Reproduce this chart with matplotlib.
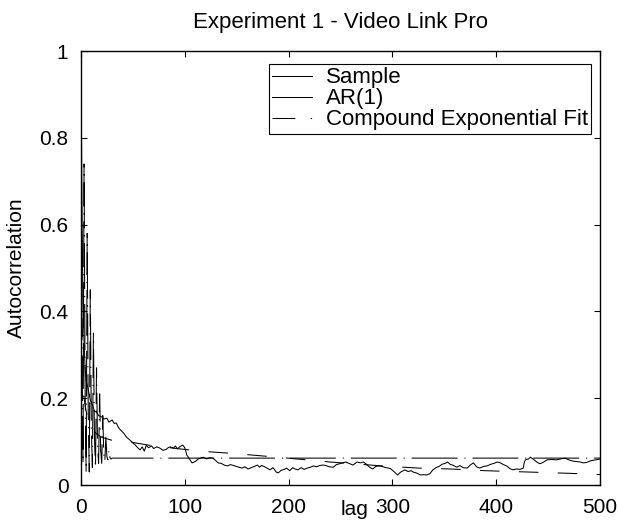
import numpy as np
import matplotlib
matplotlib.use("Agg")
import matplotlib.pyplot as plt
from matplotlib.lines import Line2D

plt.rcParams['font.family'] = ['Liberation Sans', 'DejaVu Sans']
plt.rcParams['lines.scale_dashes'] = False

# sample autocorrelation (noisy, slow decay)
sample_lag = [0, 1, 2, 3, 4, 5, 6, 7, 9, 11, 13, 15, 17, 20, 22, 25, 27, 30, 32, 34,
              36, 38, 41, 44, 47, 50, 52, 55, 57, 59, 61, 63, 65, 68, 70, 73, 76, 79, 82, 84,
              86, 89, 91, 93, 95, 98, 100, 102, 105, 107, 110, 113, 115, 118, 121, 124, 127, 130, 132, 135,
              138, 141, 144, 148, 151, 155, 158, 161, 164, 167, 170, 172, 174, 177, 180, 182, 185, 188, 190, 193,
              196, 198, 201, 204, 206, 209, 212, 215, 218, 221, 224, 227, 230, 233, 236, 239, 243, 246, 249, 252,
              255, 258, 262, 266, 269, 272, 275, 278, 281, 284, 288, 291, 294, 298, 301, 305, 308, 312, 315, 318,
              320, 324, 327, 330, 333, 336, 339, 342, 345, 348, 351, 353, 356, 358, 362, 365, 368, 372, 375, 378,
              381, 384, 388, 391, 395, 398, 401, 404, 407, 410, 413, 416, 420, 423, 426, 427, 428, 431, 433, 436,
              439, 442, 445, 447, 449, 453, 458, 462, 466, 468, 471, 474, 478, 481, 484, 487, 490, 493, 496, 500]
sample_acf = [1.0, 0.62, 0.42, 0.33, 0.27, 0.24, 0.23, 0.22, 0.196, 0.185, 0.17, 0.168, 0.16, 0.157, 0.152, 0.154, 0.145, 0.15, 0.142, 0.143,
              0.133, 0.127, 0.12, 0.11, 0.104, 0.097, 0.093, 0.085, 0.081, 0.088, 0.078, 0.092, 0.086, 0.09, 0.084, 0.088, 0.085, 0.08, 0.082, 0.086,
              0.088, 0.085, 0.09, 0.083, 0.088, 0.092, 0.086, 0.069, 0.058, 0.051, 0.054, 0.06, 0.062, 0.064, 0.06, 0.063, 0.062, 0.056, 0.051, 0.05,
              0.046, 0.044, 0.047, 0.044, 0.042, 0.039, 0.042, 0.037, 0.04, 0.043, 0.046, 0.041, 0.045, 0.042, 0.038, 0.035, 0.04, 0.03, 0.028, 0.034,
              0.036, 0.039, 0.033, 0.04, 0.037, 0.035, 0.04, 0.036, 0.039, 0.041, 0.044, 0.042, 0.045, 0.046, 0.045, 0.042, 0.041, 0.047, 0.049, 0.051,
              0.053, 0.05, 0.046, 0.053, 0.051, 0.053, 0.048, 0.041, 0.037, 0.043, 0.044, 0.042, 0.04, 0.038, 0.032, 0.023, 0.03, 0.035, 0.031, 0.033,
              0.03, 0.027, 0.023, 0.024, 0.023, 0.026, 0.035, 0.04, 0.043, 0.048, 0.05, 0.053, 0.047, 0.046, 0.041, 0.045, 0.04, 0.039, 0.046, 0.051,
              0.042, 0.039, 0.043, 0.044, 0.048, 0.05, 0.053, 0.051, 0.047, 0.044, 0.038, 0.035, 0.037, 0.036, 0.039, 0.052, 0.058, 0.06, 0.064, 0.059,
              0.053, 0.049, 0.052, 0.055, 0.058, 0.059, 0.058, 0.06, 0.062, 0.06, 0.057, 0.055, 0.054, 0.053, 0.051, 0.052, 0.055, 0.057, 0.058, 0.06]

# AR(1) model
ar_lag = [0, 1, 2, 3, 5, 7, 10, 15, 20, 30, 45, 70, 115, 145, 190, 240, 290, 325, 355, 390, 430, 470, 500]
ar_acf = [1.0, 0.4, 0.25, 0.2, 0.17, 0.15, 0.13, 0.118, 0.11, 0.103, 0.1, 0.09, 0.078, 0.073, 0.064, 0.053, 0.044, 0.039, 0.037, 0.033, 0.03, 0.027, 0.024]

# compound exponential fit (periodic decay, settles to a constant)
fit_lag = list(range(0, 31)) + [500]
fit_acf = [1.0, 0.30, 0.05, 0.74, 0.22, 0.03, 0.58, 0.17, 0.03, 0.45, 0.13, 0.04, 0.35, 0.11, 0.04, 0.27,
           0.09, 0.05, 0.21, 0.08, 0.05, 0.16, 0.07, 0.055, 0.11, 0.065, 0.058, 0.08, 0.062, 0.06, 0.062, 0.062]

series_labels = ['Sample', 'AR(1)', 'Compound Exponential Fit']
xticks = [0, 100, 200, 300, 400, 500]
yticks = [0, 0.2, 0.4, 0.6, 0.8, 1]
ytick_labels = ['0', '0.2', '0.4', '0.6', '0.8', '1']

fs = 15
lw = 0.75
fit_dash = (0, (33, 5, 0.8, 5))
ar_dash = (4, (14, 14))

fig = plt.figure(figsize=(6.18, 5.24), dpi=100)
ax = fig.add_axes([0.131, 0.0744, 0.840, 0.828])

ax.plot(sample_lag, sample_acf, color='black', lw=lw)
ax.plot(ar_lag, ar_acf, color='black', lw=lw, linestyle=ar_dash)
ax.plot(fit_lag, fit_acf, color='black', lw=lw, linestyle=fit_dash)

ax.set_xlim(0, 500)
ax.set_ylim(0, 1)
ax.set_xticks(xticks)
ax.set_xticklabels([str(t) for t in xticks])
ax.set_yticks(yticks)
ax.set_yticklabels(ytick_labels)
ax.tick_params(direction='in', length=4, width=0.8, top=True, right=True,
               labelsize=fs, pad=9)
for s in ax.spines.values():
    s.set_linewidth(1.0)

ax.set_title('Experiment 1 - Video Link Pro', fontsize=16, pad=17)
ax.set_xlabel('lag', fontsize=fs)
ax.xaxis.set_label_coords(0.528, -0.035)
ax.set_ylabel('Autocorrelation', fontsize=fs)
ax.yaxis.set_label_coords(-0.106, 0.5)

handles = [Line2D([], [], color='black', lw=lw),
           Line2D([], [], color='black', lw=lw),
           Line2D([], [], color='black', lw=lw, linestyle=(0, (16.5, 11, 1, 11)))]
leg = ax.legend(handles, series_labels, loc='upper right', bbox_to_anchor=(0.983, 0.97),
                fontsize=16, handlelength=1.8, handletextpad=0.6, labelspacing=0.0,
                borderpad=0.15, borderaxespad=0, fancybox=False, framealpha=1)
leg.get_frame().set_edgecolor('black')
leg.get_frame().set_linewidth(0.8)

fig.savefig('out.png', dpi=100)
